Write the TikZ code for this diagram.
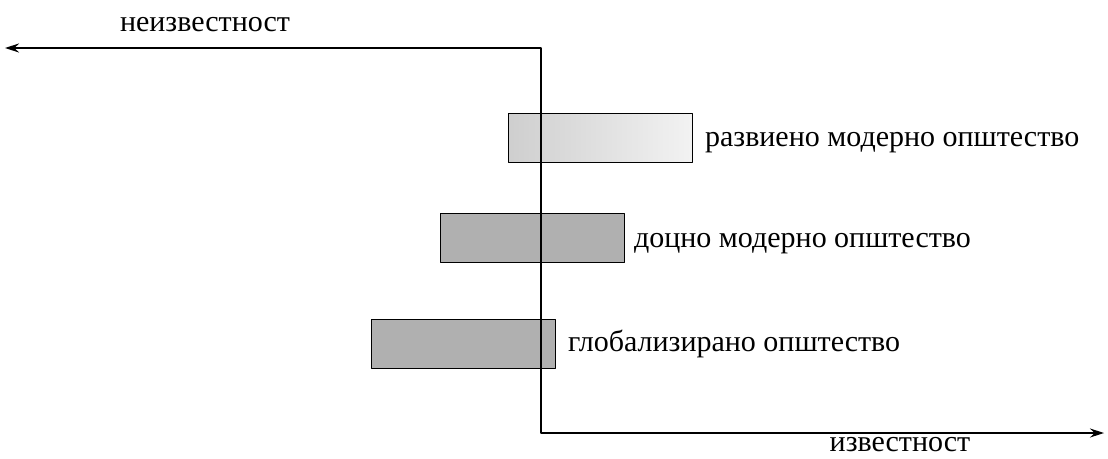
\documentclass[tikz,border=0pt]{standalone}
\usepackage{fontspec}
\setmainfont{Liberation Serif}
\usetikzlibrary{positioning,arrows.meta}
\tikzset{
  bar/.style={draw, line width=1pt, inner sep=0pt, outer sep=0pt,
    minimum width=184pt, minimum height=49pt},
  lbl/.style={inner sep=0pt, anchor=base west}
}
\begin{document}
\begin{tikzpicture}[line join=round, >={Stealth[length=14pt,width=9pt]},
    font=\fontsize{30}{34}\selectfont, x=1pt, y=-1pt, line width=1.2pt]
  \def\xo{541};
  \def\ytop{48};
  \def\ybot{433};
  \useasboundingbox (0,0) rectangle (1108,458);
  \coordinate (left) at (5,\ytop);
  \coordinate (top) at (\xo,\ytop);
  \coordinate (bot) at (\xo,\ybot);
  \coordinate (right) at (1104,\ybot);
  % the three bars, the axis goes over them
  \node[bar, left color=gray!38, right color=gray!10] (razv) at (600.5,138) {};
  \node[bar, fill=gray!62] (docno) at (532.5,238) {};
  \node[bar, fill=gray!62] (glob) at (463.5,343.5) {};
  \node[lbl] (razvl) at ([xshift=12pt,yshift=-8pt]razv.east) {развиено модерно општество};
  \node[lbl] (docnol) at ([xshift=9pt,yshift=-9pt]docno.east) {доцно модерно општество};
  \node[lbl] (globl) at ([xshift=12pt,yshift=-8pt]glob.east) {глобализирано општество};
  \draw[<->] (left) -- (top) -- (bot) -- (right);
  \node[lbl, anchor=base] (neizv) at (205,31) {неизвестност};
  \node[lbl, anchor=base] (izv) at (900,451) {известност};
\end{tikzpicture}
\end{document}
